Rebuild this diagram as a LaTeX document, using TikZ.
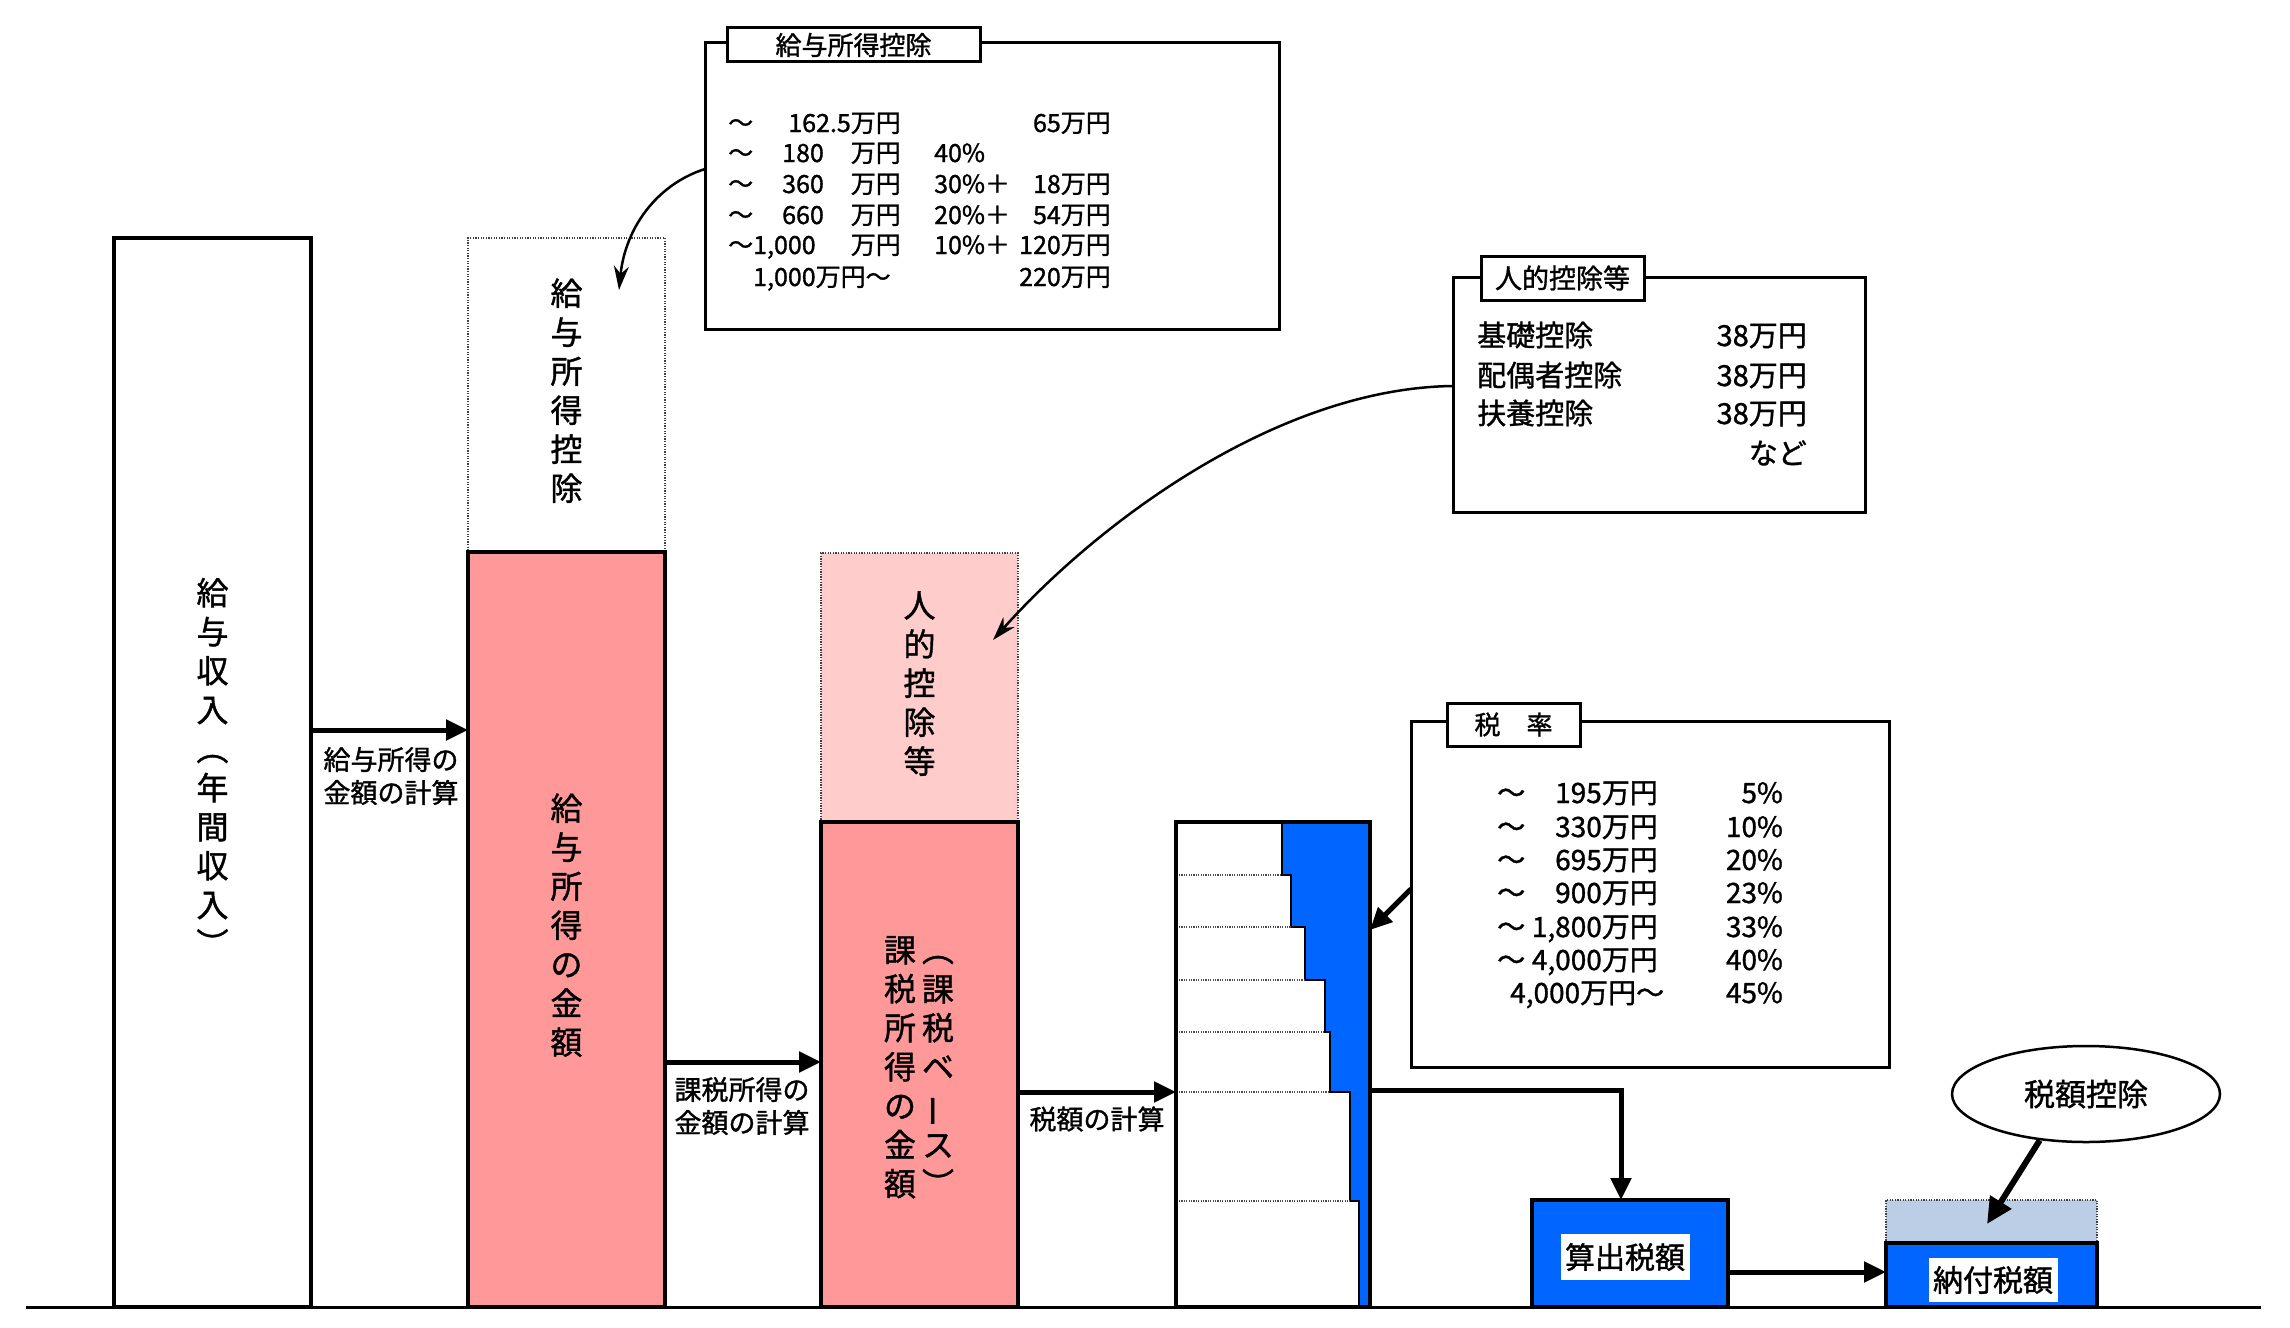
\documentclass[tikz,border=0pt]{standalone}
\usepackage{fontspec}
\setmainfont{Noto Sans CJK JP}[FakeBold=1.2]
\usetikzlibrary{arrows.meta,shapes.geometric}
\definecolor{pinkA}{RGB}{255,153,153}
\definecolor{pinkB}{RGB}{255,204,204}
\definecolor{blueA}{RGB}{0,102,255}
\definecolor{blueB}{RGB}{188,206,230}
\newcommand\fs[2]{\fontsize{#1}{#2}\selectfont}
\newcommand\vchoon{\rotatebox[origin=c]{90}{ー}}
\begin{document}
\begin{tikzpicture}[x=1pt,y=-1pt,
  barbox/.style={draw=black,line width=3.5pt,inner sep=0pt,outer sep=0pt},
  dotbox/.style={draw=black!75,line width=1.3pt,dash pattern=on 1.3pt off 1.3pt,inner sep=0pt,outer sep=0pt},
  vtxt/.style={align=center,font=\fs{32}{39},inner sep=0pt},
  lbl/.style={align=left,font=\fs{27}{33},inner sep=0pt},
  bigarrow/.style={line width=5pt,-{Triangle[length=22pt,width=20pt]}},
  curvearrow/.style={line width=2.5pt,-{Stealth[length=24pt,width=15pt]}},
  infobox/.style={draw=black,line width=3pt,fill=white,inner sep=0pt,outer sep=0pt},
  tabbox/.style={draw=black,line width=3pt,fill=white,inner sep=0pt,outer sep=0pt},
  tA/.style={font=\fs{25}{30},inner sep=0pt},
  tB/.style={font=\fs{29}{36},inner sep=0pt},
  tC/.style={font=\fs{28}{33},inner sep=0pt},
  wlabel/.style={fill=white,inner xsep=4.5pt,inner ysep=0pt,font=\fs{30}{36}}
]
\useasboundingbox (0,0) rectangle (2290,1327);
\fill[white] (0,0) rectangle (2290,1327);

% baseline
\draw[line width=3pt] (26,1307) -- (2261,1307);

% income box
\node[barbox,fill=white,minimum width=197pt,minimum height=1069pt,vtxt] (inc) at (212.5,772.5)
  {\strut{}給\\与\\収\\入\\︵\\年\\間\\収\\入\\︶\strut};

% salary deduction (dotted) and salary income (pink)
\node[dotbox,fill=white,minimum width=197pt,minimum height=314pt,vtxt] (ded) at (566.5,395)
  {\strut{}給\\与\\所\\得\\控\\除\strut};
\node[barbox,fill=pinkA,minimum width=197pt,minimum height=755pt,vtxt] (sal) at (566.5,929.5)
  {\strut{}給\\与\\所\\得\\の\\金\\額\strut};

% personal deductions (dotted) and taxable income (pink)
\node[dotbox,fill=pinkB,minimum width=197pt,minimum height=269pt,vtxt] (pers) at (919.5,687.5)
  {\strut{}人\\的\\控\\除\\等\strut};
\node[barbox,fill=pinkA,minimum width=197pt,minimum height=485pt] (tax) at (919.5,1064.5) {};
\node[vtxt] (taxL) at (900,1071) {\strut{}課\\税\\所\\得\\の\\金\\額\strut};
\node[vtxt] (taxR) at (938,1071) {\strut{}︵\\課\\税\\ベ\\\vchoon\\ス\\︶\strut};

% staircase
\fill[blueA] (1282,822) -- (1370,822) -- (1370,1307) -- (1359,1307) -- (1359,1201) -- (1350,1201)
  -- (1350,1092) -- (1330,1092) -- (1330,1032) -- (1325,1032) -- (1325,980) -- (1305,980)
  -- (1305,927) -- (1291,927) -- (1291,875) -- (1282,875) -- cycle;
\draw[line width=2.5pt] (1282,822) -- (1282,875) -- (1291,875) -- (1291,927) -- (1305,927)
  -- (1305,980) -- (1325,980) -- (1325,1032) -- (1330,1032) -- (1330,1092) -- (1350,1092)
  -- (1350,1201) -- (1359,1201) -- (1359,1307);
\foreach \yy/\xx in {875/1282,927/1291,980/1305,1032/1325,1092/1330,1201/1350}
  \draw[black!70,line width=1.5pt,dash pattern=on 1.2pt off 1.2pt] (1179,\yy) -- (\xx,\yy);
\node[barbox,minimum width=194pt,minimum height=485pt] (stair) at (1273,1064.5) {};

% computed tax and payable tax
\node[barbox,fill=blueA,minimum width=196pt,minimum height=107pt] (calc) at (1630,1253.5) {};
\node[wlabel,minimum height=46pt] (calcL) at (1625,1257) {算出税額};
\node[dotbox,fill=blueB,minimum width=211pt,minimum height=43pt] (credit) at (1991.5,1221.5) {};
\node[barbox,fill=blueA,minimum width=211pt,minimum height=64pt] (pay) at (1991.5,1275) {};
\node[wlabel,minimum height=44pt] (payL) at (1993,1280) {納付税額};

% tax credit ellipse
\node[draw=black,ellipse,line width=2.5pt,fill=white,minimum width=268pt,minimum height=96pt,inner sep=0pt,font=\fs{31}{36}] (ell) at (2086,1094) {税額控除};

% main arrows
\coordinate (cx) at (1621,0);
\coordinate (ctip) at (1987,1224);
\draw[bigarrow] (inc.east |- 0,730) -- (sal.west |- 0,730);
\draw[bigarrow] (sal.east |- 0,1062) -- (tax.west |- 0,1062);
\draw[bigarrow] (tax.east |- 0,1092) -- (stair.west |- 0,1092);
\draw[bigarrow] (stair.east |- 0,1090) -| (cx |- calc.north);
\draw[bigarrow] (calc.east |- 0,1272) -- (pay.west |- 0,1272);
\draw[line width=6pt,-{Triangle[length=26pt,width=24pt]}] (ell.225) -- (ctip);

% arrow labels
\node[lbl] (l1) at (391,776) {給与所得の\\金額の計算};
\node[lbl] (l2) at (742,1106) {課税所得の\\金額の計算};
\node[lbl] (l3) at (1097,1119) {税額の計算};

% info box A : salary income deduction
\node[infobox,minimum width=574pt,minimum height=286pt] (infoA) at (992,186) {};
\node[tabbox,minimum width=253pt,minimum height=34pt,font=\fs{26}{30}] (tabA) at (853.5,45) {給与所得控除};
\foreach \i/\yy in {1/132,2/162,3/193,4/224}
  \node[tA,anchor=base west] (aT\i) at (728,\yy) {～};
\node[tA,anchor=base east] (a1b) at (901,132) {162.5万円};
\node[tA,anchor=base east] (a1d) at (1111,132) {65万円};
\node[tA,anchor=base west] (a2a) at (782,162) {180};
\node[tA,anchor=base east] (a2b) at (901,162) {万円};
\node[tA,anchor=base west] (a2c) at (934,162) {40\%};
\node[tA,anchor=base west] (a3a) at (782,193) {360};
\node[tA,anchor=base east] (a3b) at (901,193) {万円};
\node[tA,anchor=base west] (a3c) at (934,193) {30\%＋};
\node[tA,anchor=base east] (a3d) at (1111,193) {18万円};
\node[tA,anchor=base west] (a4a) at (782,224) {660};
\node[tA,anchor=base east] (a4b) at (901,224) {万円};
\node[tA,anchor=base west] (a4c) at (934,224) {20\%＋};
\node[tA,anchor=base east] (a4d) at (1111,224) {54万円};
\node[tA,anchor=base west] (a5a) at (728,254) {～1,000};
\node[tA,anchor=base east] (a5b) at (901,254) {万円};
\node[tA,anchor=base west] (a5c) at (934,254) {10\%＋};
\node[tA,anchor=base east] (a5d) at (1111,254) {120万円};
\node[tA,anchor=base west] (a6a) at (753,286) {1,000万円～};
\node[tA,anchor=base east] (a6d) at (1111,286) {220万円};

% info box B : personal deductions
\node[infobox,minimum width=412pt,minimum height=235pt] (infoB) at (1659,394.5) {};
\node[tabbox,minimum width=163pt,minimum height=44pt,font=\fs{27}{30}] (tabB) at (1562.5,278) {人的控除等};
\node[tB,anchor=base west] (b1a) at (1477,346) {基礎控除};
\node[tB,anchor=base east] (b1b) at (1807,346) {38万円};
\node[tB,anchor=base west] (b2a) at (1477,386) {配偶者控除};
\node[tB,anchor=base east] (b2b) at (1807,386) {38万円};
\node[tB,anchor=base west] (b3a) at (1477,424) {扶養控除};
\node[tB,anchor=base east] (b3b) at (1807,424) {38万円};
\node[tB,anchor=base east] (b4b) at (1807,464) {など};

% info box C : tax rates
\node[infobox,minimum width=478pt,minimum height=346pt] (infoC) at (1650,894) {};
\node[tabbox,minimum width=133pt,minimum height=43pt,font=\fs{26}{30}] (tabC) at (1513.5,724.5) {税　率};
\foreach \i/\yy in {1/803,2/837,3/870,4/903,5/937,6/970}
  \node[tC,anchor=base west] (cT\i) at (1497,\yy) {～};
\node[tC,anchor=base east] (c1b) at (1658,803) {195万円};
\node[tC,anchor=base east] (c2b) at (1658,837) {330万円};
\node[tC,anchor=base east] (c3b) at (1658,870) {695万円};
\node[tC,anchor=base east] (c4b) at (1658,903) {900万円};
\node[tC,anchor=base east] (c5b) at (1658,937) {1,800万円};
\node[tC,anchor=base east] (c6b) at (1658,970) {4,000万円};
\node[tC,anchor=base west] (c7b) at (1510,1003) {4,000万円～};
\foreach \i/\yy/\pp in {1/803/5,2/837/10,3/870/20,4/903/23,5/937/33,6/970/40,7/1003/45}
  \node[tC,anchor=base east] (cP\i) at (1783,\yy) {\pp\%};

% connectors from info boxes
\coordinate (t1) at (619,290);
\coordinate (t2) at (993,640);
\draw[curvearrow] (infoA.west |- 0,169) .. controls (655,185) and (625,230) .. (t1);
\draw[curvearrow] (infoB.west |- 0,386) .. controls (1280,388) and (1100,520) .. (t2);
\draw[line width=5pt,-{Triangle[length=22pt,width=20pt]}] (infoC.west |- 0,889) -- (stair.east |- 0,930);
\end{tikzpicture}
\end{document}
